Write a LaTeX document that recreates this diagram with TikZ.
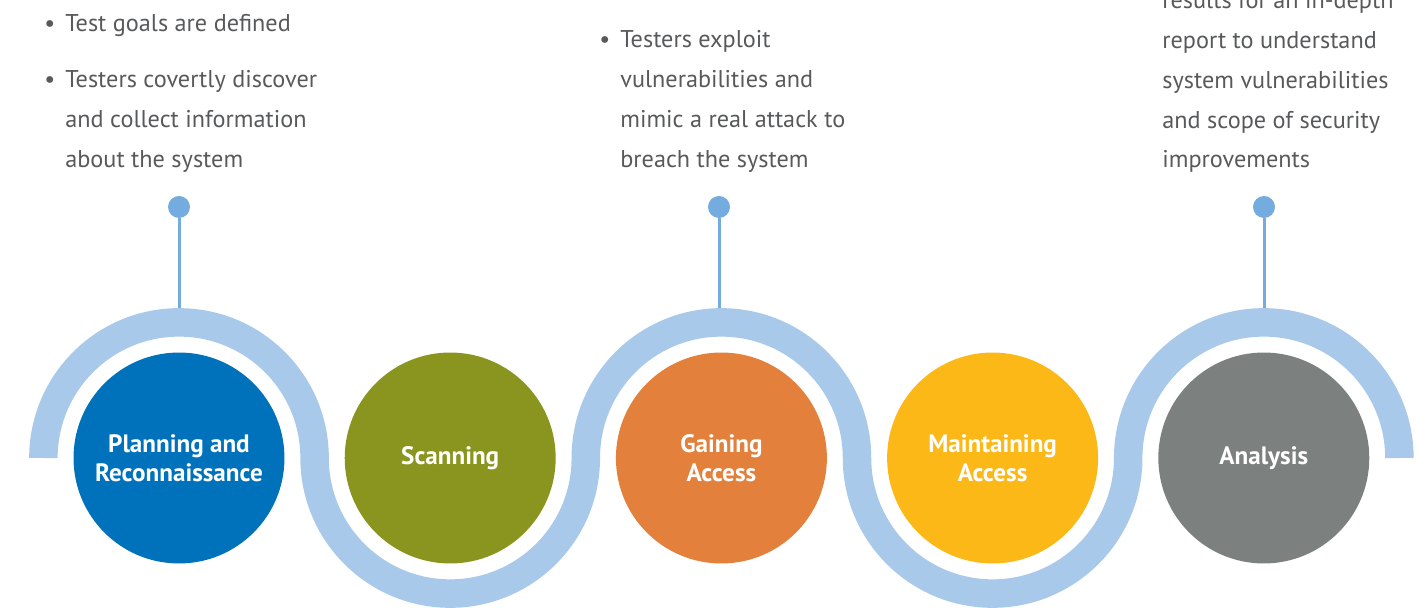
\documentclass[tikz, border = 0pt]{standalone}
\usepackage{fontspec}
\setmainfont{PT Sans}

\definecolor{bandblue}{HTML}{A8C9EA}
\definecolor{stemblue}{HTML}{74ACDF}
\definecolor{notegray}{HTML}{58595B}
\definecolor{planblue}{HTML}{0072BB}
\definecolor{scanolive}{HTML}{8A9520}
\definecolor{gainorange}{HTML}{E3803B}
\definecolor{keepyellow}{HTML}{FBB817}
\definecolor{analysisgray}{HTML}{7C8180}

\tikzset{
	phase/.style = {circle, minimum size = 4.22cm, inner sep = 0pt, text = white, align = center, font = \bfseries\fontsize{14.3}{16.3}\selectfont},
	pin/.style = {circle, minimum size = 0.44cm, inner sep = 0pt, fill = stemblue},
	stem/.style = {draw = stemblue, line width = 0.06cm},
	band/.style = {draw = bandblue, line width = 0.57cm},
	notes/.style = {anchor = base west, inner sep = 0pt, align = left, text = notegray, font = \fontsize{13.8}{22.76}\selectfont}
}

\newcommand{\dotitem}{\llap{\textbullet\hspace{0.2cm}}}

\begin{document}
\begin{tikzpicture}[x = 0.02cm, y = 0.02cm]

	\useasboundingbox (0, 0) rectangle (1420, 608);

	% Pins + stems
	
	\node [pin] (planPin) at (179, 401) {};
	\node [pin] (gainPin) at (719, 401) {};
	\node [pin] (analysisPin) at (1264, 401) {};
	
	\coordinate (planTop) at (179, 290);
	\coordinate (gainTop) at (719, 290);
	\coordinate (analysisTop) at (1264, 290);
	
	\draw [stem] (planPin) -- (planTop);
	\draw [stem] (gainPin) -- (gainTop);
	\draw [stem] (analysisPin) -- (analysisTop);
	
	% Wave
	
	\draw [band] (43.4, 150) arc (180 : 0 : 135.6) arc (180 : 360 : 135.6)
		arc (180 : 0 : 135.6) arc (180 : 360 : 135.6) arc (180 : 0 : 135.6);
	
	% Phases
	
	\node [phase, fill = planblue] (plan) at (179, 150) {Planning and\\Reconnaissance};
	\node [phase, fill = scanolive] (scan) at (450.2, 150) {Scanning};
	\node [phase, fill = gainorange] (gain) at (721.4, 150) {Gaining\\Access};
	\node [phase, fill = keepyellow] (keep) at (992.6, 150) {Maintaining\\Access};
	\node [phase, fill = analysisgray] (analysis) at (1263.8, 150) {Analysis};
	
	% Notes (anchored at the last line)
	
	\node [notes] (planNotes) at (65, 440.8) {\dotitem Test goals are defined\\[0.32cm]\dotitem Testers covertly discover\\and collect information\\about the system};
	\node [notes] (gainNotes) at (620, 440.8) {\dotitem Testers exploit\\vulnerabilities and\\mimic a real attack to\\breach the system};
	\node [notes] (analysisNotes) at (1162, 440) {results for an in-depth\\report to understand\\system vulnerabilities\\and scope of security\\improvements};

\end{tikzpicture}
\end{document}
